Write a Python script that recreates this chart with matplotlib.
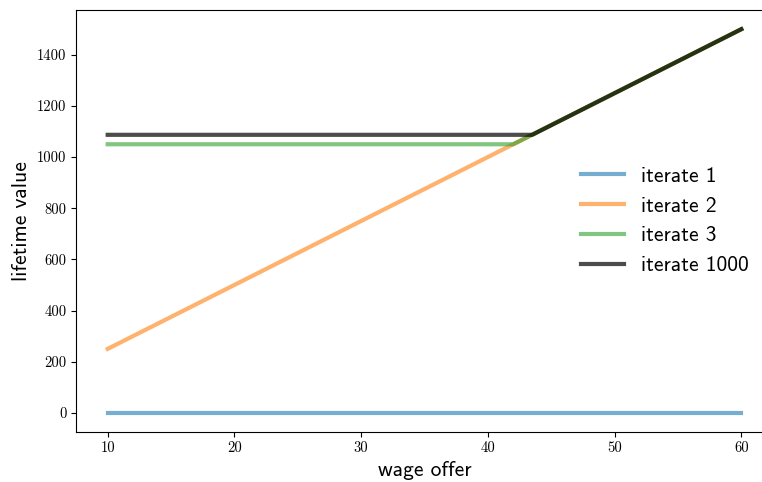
import numpy as np
import matplotlib.pyplot as plt

# breakpoints of each iterate (wage offer, lifetime value)
w_iter1 = [10, 60]
v_iter1 = [0, 0]

w_iter2 = [10, 60]
v_iter2 = [250, 1500]

w_iter3 = [10, 42, 60]
v_iter3 = [1050, 1050, 1500]

w_iter1000 = [10, 43.5, 60]
v_iter1000 = [1087, 1087, 1500]

labels = ["iterate 1", "iterate 2", "iterate 3", "iterate 1000"]

fig = plt.figure(figsize=(7.62, 4.82), dpi=100)
ax = fig.add_axes([76 / 762, 50 / 482, 697 / 762, 422 / 482])

ax.plot(w_iter1, v_iter1, lw=3, alpha=0.6, label=labels[0])
ax.plot(w_iter2, v_iter2, lw=3, alpha=0.6, label=labels[1])
ax.plot(w_iter3, v_iter3, lw=3, alpha=0.6, label=labels[2])
ax.plot(w_iter1000, v_iter1000, 'k-', lw=3, alpha=0.7, label=labels[3])

ax.set_xlabel("wage offer", fontsize=15.5, family="cmss10")
ax.set_ylabel("lifetime value", fontsize=15.5, family="cmss10")

ax.set_xticks([10, 20, 30, 40, 50, 60])
ax.set_yticks([0, 200, 400, 600, 800, 1000, 1200, 1400])
for lbl in ax.get_xticklabels() + ax.get_yticklabels():
    lbl.set_family("cmr10")
    lbl.set_fontsize(10.5)

ax.legend(loc="center right", bbox_to_anchor=(0.993, 0.5), frameon=False,
          prop={"family": "cmss10", "size": 15.5})

fig.savefig("out.png", dpi=100)
